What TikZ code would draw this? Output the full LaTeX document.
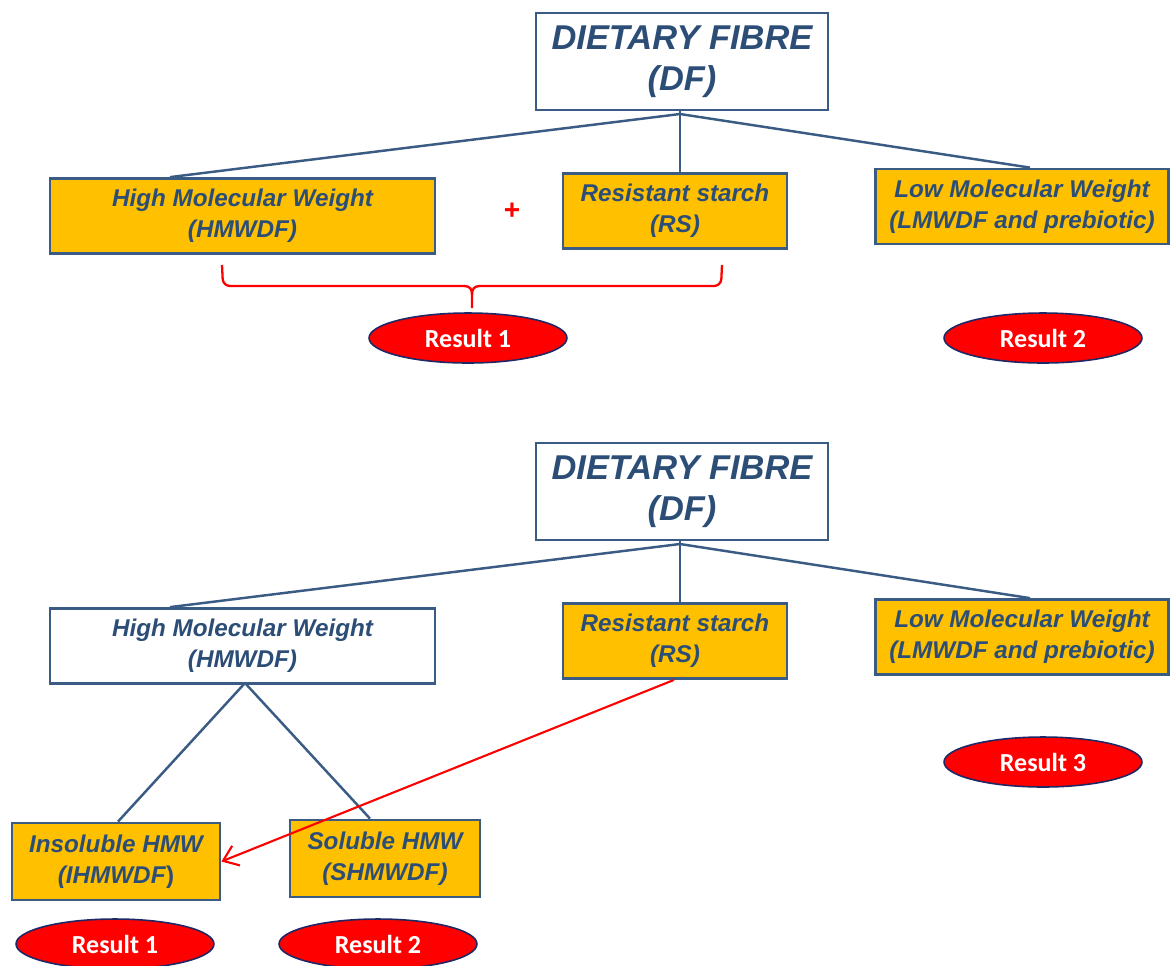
\documentclass[tikz,border=0pt]{standalone}
\usepackage{fontspec}
\setsansfont{Liberation Sans}
\newfontfamily\resultfont{Carlito}
\usetikzlibrary{shapes.geometric,arrows.meta}
\definecolor{fibre}{RGB}{255,192,0}
\definecolor{textblue}{RGB}{44,78,118}
\definecolor{boxline}{RGB}{58,92,132}
\definecolor{ovalline}{RGB}{30,40,100}
\begin{document}
\begin{tikzpicture}[
    x=0.02cm, y=-0.02cm,
    topbox/.style={rectangle, draw=boxline, line width=1.6pt, fill=white, minimum width=5.84cm, minimum height=1.94cm, align=center, inner sep=0pt, text=textblue, font=\sffamily\bfseries\itshape\fontsize{19.6}{23.5}\selectfont},
    catbox/.style={rectangle, draw=boxline, line width=1.6pt, fill=fibre, minimum height=1.5cm, align=center, inner sep=0pt, text=textblue, font=\sffamily\bfseries\itshape\fontsize{13.8}{17.6}\selectfont},
    result/.style={ellipse, draw=ovalline, line width=0.9pt, fill=red, minimum width=3.96cm, minimum height=1cm, inner sep=0pt, text=white, font=\resultfont\bfseries\fontsize{14.8}{17}\selectfont},
    link/.style={draw=boxline, line width=1.4pt},
    bracket/.style={draw=red, line width=1.3pt},
    plus/.style={text=red, font=\sffamily\bfseries\fontsize{16}{18}\selectfont}
]
\useasboundingbox (0,0) rectangle (1170,965);

% First scheme
\node[topbox] (df1) at (682,61.5) {\raisebox{-2pt}{DIETARY FIBRE}\\\raisebox{-2pt}{(DF)}};
\node[catbox, minimum width=7.7cm] (hm1) at (242.5,216) {High Molecular Weight\\(HMWDF)};
\node[catbox, minimum width=4.48cm] (rs1) at (675,211) {Resistant starch\\(RS)};
\node[catbox, minimum width=5.86cm] (lm1) at (1022,206.5) {Low Molecular Weight\\(LMWDF and prebiotic)};
\node[plus] (plus) at (512,211) {+};
\node[result] (res1) at (468,338) {Result 1};
\node[result] (res2) at (1043,338) {Result 2};

\coordinate (j1) at (680,114);
\draw[link] (df1.south -| j1) -- (j1);
\draw[link] (j1) -- ([xshift=-1.45cm]hm1.north);
\draw[link] (j1) -- (j1 |- rs1.north);
\draw[link] (j1) -- ([xshift=0.16cm]lm1.north);

% Bracket under HMWDF + RS
\coordinate (tip) at (472,308);
\draw[bracket, rounded corners=4] (222,265) -- (223,286) -- (464,286);
\draw[bracket] (464,286) .. controls (470,286) and (472,289) .. (472,295) -- (tip);
\draw[bracket, rounded corners=4] (722,265) -- (721,286) -- (480,286);
\draw[bracket] (480,286) .. controls (474,286) and (472,289) .. (472,295);

% Second scheme
\node[topbox] (df2) at (682,491.5) {\raisebox{-2pt}{DIETARY FIBRE}\\\raisebox{-2pt}{(DF)}};
\node[catbox, fill=white, minimum width=7.7cm] (hm2) at (242.5,646) {High Molecular Weight\\(HMWDF)};
\node[catbox, minimum width=4.48cm] (rs2) at (675,641) {Resistant starch\\(RS)};
\node[catbox, minimum width=5.86cm] (lm2) at (1022,637) {Low Molecular Weight\\(LMWDF and prebiotic)};
\node[result] (res3) at (1043,762) {Result 3};

\node[catbox, minimum width=4.16cm, minimum height=1.54cm] (ins) at (116,861.5) {Insoluble HMW\\(IHMWDF\textup{)}};
\node[catbox, minimum width=3.8cm, minimum height=1.54cm] (sol) at (385,858.5) {Soluble HMW\\(SHMWDF)};
\node[result] (resa) at (115,944) {Result 1};
\node[result] (resb) at (378,944) {Result 2};

\coordinate (j2) at (680,544);
\draw[link] (df2.south -| j2) -- (j2);
\draw[link] (j2) -- ([xshift=-1.45cm]hm2.north);
\draw[link] (j2) -- (j2 |- rs2.north);
\draw[link] (j2) -- ([xshift=0.16cm]lm2.north);

\coordinate (j3) at (245,683);
\draw[link] (j3) -- ([xshift=0.04cm]ins.north);
\draw[link] (j3) -- ([xshift=-0.3cm]sol.north);

% RS feeds the insoluble fraction
\draw[draw=red, line width=1.2pt, -{Straight Barb[length=8pt,width=12pt]}] ([xshift=-0.02cm]rs2.south) -- (ins.east);
\end{tikzpicture}
\end{document}
